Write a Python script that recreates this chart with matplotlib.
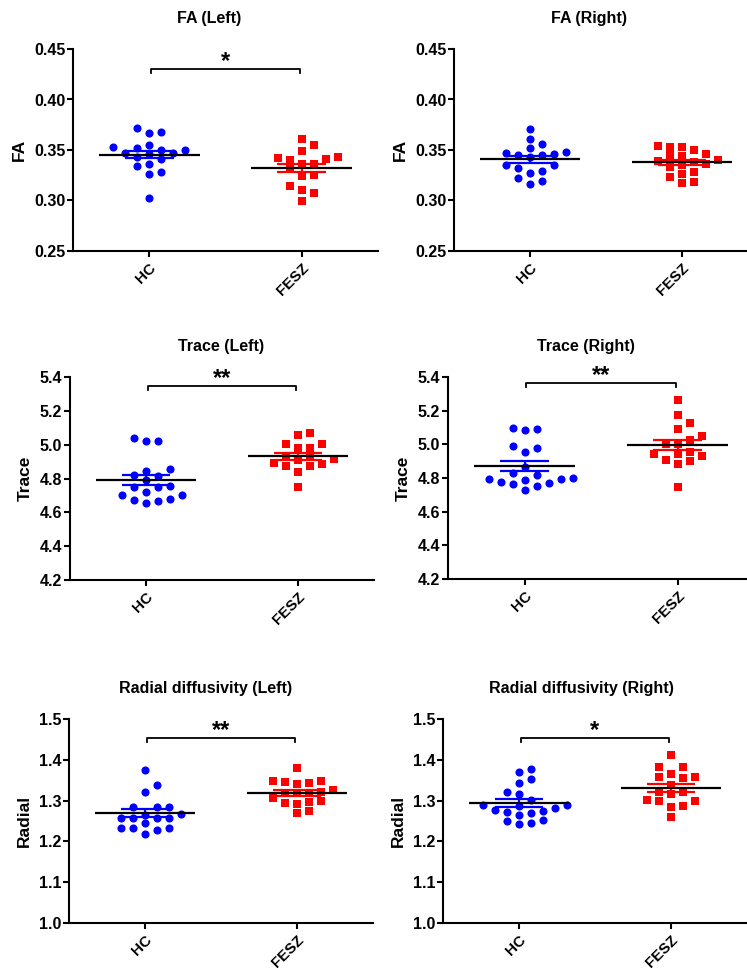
import numpy as np
import matplotlib
matplotlib.use("Agg")
import matplotlib.pyplot as plt

plt.rcParams['font.family'] = ['Liberation Sans', 'DejaVu Sans']
plt.rcParams['font.weight'] = 'bold'

# values
groups = ["HC", "FESZ"]

fa_left_hc = [0.3718, 0.3678, 0.3665, 0.3500, 0.3500, 0.3546, 0.3533, 0.3520, 0.3470,
              0.3460, 0.3467, 0.3434, 0.3408, 0.3365, 0.3345, 0.3286, 0.3266, 0.3025]
fa_left_fesz = [0.3612, 0.3546, 0.3487, 0.3431, 0.3421, 0.3408, 0.3401, 0.3361, 0.3361,
                0.3309, 0.3243, 0.3256, 0.3100, 0.3140, 0.3074, 0.2992]

fa_right_hc = [0.3705, 0.3609, 0.3559, 0.3520, 0.3480, 0.3470, 0.3454, 0.3454, 0.3464,
               0.3434, 0.3355, 0.3355, 0.3325, 0.3292, 0.3272, 0.3226, 0.3190, 0.3163]
fa_right_fesz = [0.3543, 0.3533, 0.3526, 0.3497, 0.3464, 0.3441, 0.3447, 0.3400, 0.3390,
                 0.3384, 0.3335, 0.3358, 0.3348, 0.3282, 0.3259, 0.3236, 0.3186, 0.3170]

trace_left_hc = [5.023, 5.021, 5.037, 4.847, 4.859, 4.818, 4.816, 4.792, 4.749,
                 4.749, 4.753, 4.719, 4.705, 4.705, 4.670, 4.666, 4.680, 4.656]
trace_left_fesz = [5.068, 5.059, 5.005, 5.005, 4.982, 4.978, 4.911, 4.934, 4.930,
                   4.887, 4.914, 4.891, 4.871, 4.871, 4.841, 4.747]

trace_right_hc = [5.093, 5.087, 5.097, 4.988, 4.976, 4.956, 4.867, 4.830, 4.818,
                  4.796, 4.790, 4.778, 4.800, 4.796, 4.766, 4.772, 4.754, 4.729]
trace_right_fesz = [5.265, 5.172, 5.129, 5.091, 5.028, 5.048, 5.004, 5.004, 4.945,
                    4.929, 4.945, 4.955, 4.901, 4.909, 4.885, 4.747]

radial_left_hc = [1.376, 1.338, 1.320, 1.285, 1.285, 1.285, 1.265, 1.258, 1.257,
                  1.266, 1.257, 1.258, 1.244, 1.234, 1.233, 1.228, 1.234, 1.218]
radial_left_fesz = [1.379, 1.349, 1.346, 1.344, 1.348, 1.340, 1.322, 1.318, 1.326,
                    1.318, 1.318, 1.306, 1.297, 1.291, 1.293, 1.298, 1.270, 1.274]

radial_right_hc = [1.369, 1.377, 1.352, 1.343, 1.316, 1.322, 1.302, 1.289, 1.287, 1.289,
                   1.273, 1.277, 1.275, 1.282, 1.270, 1.265, 1.250, 1.243, 1.244, 1.252]
radial_right_fesz = [1.411, 1.382, 1.382, 1.359, 1.356, 1.357, 1.364, 1.339, 1.322,
                     1.316, 1.320, 1.300, 1.302, 1.300, 1.285, 1.287, 1.259]

titles = ["FA (Left)", "FA (Right)", "Trace (Left)", "Trace (Right)",
          "Radial diffusivity (Left)", "Radial diffusivity (Right)"]
ylabels = ["FA", "FA", "Trace", "Trace", "Radial", "Radial"]
stars = ["*", "", "**", "**", "**", "*"]
yticks_list = [[0.25, 0.30, 0.35, 0.40, 0.45]] * 2 + \
              [[4.2, 4.4, 4.6, 4.8, 5.0, 5.2, 5.4]] * 2 + \
              [[1.0, 1.1, 1.2, 1.3, 1.4, 1.5]] * 2
data = [(fa_left_hc, fa_left_fesz), (fa_right_hc, fa_right_fesz),
        (trace_left_hc, trace_left_fesz), (trace_right_hc, trace_right_fesz),
        (radial_left_hc, radial_left_fesz), (radial_right_hc, radial_right_fesz)]

W, H = 747, 971
fig = plt.figure(figsize=(W / 100, H / 100), dpi=100)

# axes boxes in pixels: left, top, width, height
boxes = [(73, 49, 305, 202), (454, 49, 304, 202),
         (70, 377, 304, 203), (448, 377, 306, 202),
         (69, 719, 304, 204), (443, 719, 304, 204)]
title_x = [0.446, 0.444, 0.497, 0.45, 0.45, 0.454]
bracket_y = [0.90, None, 0.956, 0.97, 0.907, 0.907]
fmts = ["%.2f", "%.2f", "%.1f", "%.1f", "%.1f", "%.1f"]


def swarm(vals, px_per_unit, diam=8.5):
    # simple column beeswarm like GraphPad
    vals = np.asarray(vals)
    cols = np.zeros(len(vals))
    placed = []
    for i in np.argsort(vals):
        y = vals[i] * px_per_unit
        for c in [0, 1, -1, 2, -2, 3, -3, 4, -4, 5, -5]:
            if all(not (pc == c and abs(py - y) < diam) for pc, py in placed):
                break
        placed.append((c, y))
        cols[i] = c
    return cols


for k in range(6):
    l, t, w, h = boxes[k]
    ax = fig.add_axes([l / W, 1 - (t + h) / H, w / W, h / H])
    yt = yticks_list[k]
    ax.set_ylim(yt[0], yt[-1])
    ax.set_xlim(-0.5, 1.5)
    px_per_unit = h / (yt[-1] - yt[0])
    step = 12 * 2.0 / w

    for g, (vals, col, mk) in enumerate(zip(data[k], ["#0000ff", "#ff0000"], ["o", "s"])):
        vals = np.asarray(vals)
        xs = g + swarm(vals, px_per_unit) * step
        ax.scatter(xs, vals, s=34 if mk == "o" else 28, marker=mk, color=col,
                   linewidths=0, zorder=2)
        m = vals.mean()
        sem = vals.std(ddof=1) / np.sqrt(len(vals))
        ax.hlines([m - sem, m + sem], g - 0.16, g + 0.16, color=col, lw=1.6, zorder=3)
        ax.vlines(g, m - sem, m + sem, color=col, lw=1.6, zorder=3)
        ax.hlines(m, g - 0.33, g + 0.33, color="black", lw=1.6, zorder=4)

    ax.set_yticks(yt)
    ax.yaxis.set_major_formatter(matplotlib.ticker.FormatStrFormatter(fmts[k]))
    ax.set_xticks([0, 1])
    ax.set_xticklabels(groups, rotation=45, ha="right", rotation_mode="anchor")
    ax.tick_params(axis="both", direction="out", length=4, width=1.5, labelsize=11.5)
    ax.tick_params(axis="y", pad=1.5)
    ax.tick_params(axis="x", pad=3, labelsize=11)
    for s in ["top", "right"]:
        ax.spines[s].set_visible(False)
    for s in ["left", "bottom"]:
        ax.spines[s].set_linewidth(1.5)
    ax.set_ylabel(ylabels[k], fontsize=12.5, fontweight="bold", labelpad=5)
    ax.text(title_x[k], 1 + 30 / h, titles[k], transform=ax.transAxes,
            ha="center", va="center", fontsize=11.5, fontweight="bold")

    if stars[k]:
        by = bracket_y[k]
        tr = ax.get_xaxis_transform()
        dy = 4 / h
        ax.plot([0.01, 0.01, 0.99, 0.99], [by - dy, by, by, by - dy], color="black",
                lw=1.3, transform=tr, clip_on=False)
        ax.text(0.5, by + 1 / h, stars[k], transform=tr, ha="center", va="baseline",
                fontsize=17, fontweight="bold")

plt.savefig("out.png", dpi=100)
